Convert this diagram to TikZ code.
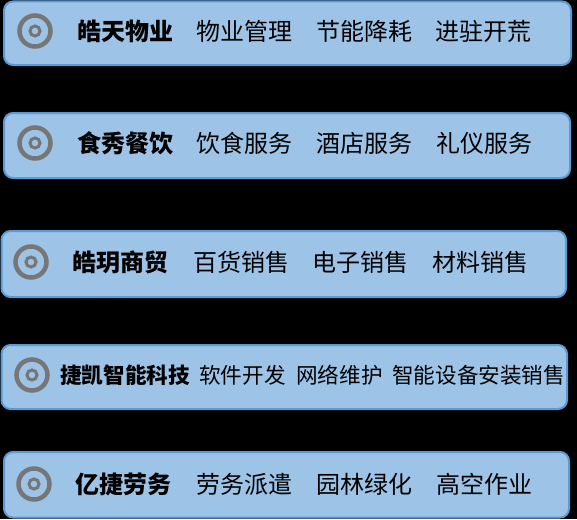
\documentclass[tikz,border=0pt]{standalone}
\usepackage{fontspec}
\newfontfamily\cjk{Noto Sans CJK SC}
\begin{document}
\begin{tikzpicture}[x=1pt,y=-1pt,
  card/.style={draw=cardedge,line width=2pt,fill=cardfill,rounded corners=9pt},
  ringout/.style={circle,draw=ringgray,line width=4.5pt,minimum size=31pt,inner sep=0pt},
  ringin/.style={circle,draw=ringgray,line width=3pt,minimum size=10pt,inner sep=0pt},
  lbl/.style={anchor=west,inner sep=0pt,text=black,font=\cjk\fontsize{24}{28}\selectfont},
  lblb/.style={lbl,font=\cjk\bfseries\fontsize{24}{28}\selectfont},
  lbls/.style={anchor=west,inner sep=0pt,text=black,font=\cjk\fontsize{21.6}{26}\selectfont},
  lblsb/.style={lbls,font=\cjk\bfseries\fontsize{21.6}{26}\selectfont}]
\definecolor{cardfill}{HTML}{9DC3E6}
\definecolor{cardedge}{HTML}{5B9BD5}
\definecolor{ringgray}{HTML}{767676}
\fill[black] (0,0) rectangle (577,519);
\useasboundingbox (0,0) rectangle (577,519);
% boxes
\draw[card] (4,1.5) rectangle (571,65);
\draw[card] (4,113) rectangle (570,178);
\draw[card] (1.5,231) rectangle (566,297);
\draw[card] (1.5,345) rectangle (567,409);
\draw[card] (4,452) rectangle (569,517.5);
% icons
\foreach \n/\cx/\cy in {1/35/31,2/35/143,3/31/262,4/32/375,5/34/484}{
  \node[ringout] (io\n) at (\cx,\cy) {};
  \node[ringin] (ii\n) at (io\n.center) {};
}
% row 1
\node[lblb] (a1) at (77,31) {皓天物业};
\node[lbl] (a2) at (196,31) {物业管理};
\node[lbl] (a3) at (316,31) {节能降耗};
\node[lbl] (a4) at (435,31) {进驻开荒};
% row 2
\node[lblb] (b1) at (77,143) {食秀餐饮};
\node[lbl] (b2) at (196,143) {饮食服务};
\node[lbl] (b3) at (316,143) {酒店服务};
\node[lbl] (b4) at (436,143) {礼仪服务};
% row 3
\node[lblb] (c1) at (72,262) {皓玥商贸};
\node[lbl] (c2) at (193,262) {百货销售};
\node[lbl] (c3) at (312,262) {电子销售};
\node[lbl] (c4) at (432,262) {材料销售};
% row 4
\node[lblsb] (d1) at (60,375) {捷凯智能科技};
\node[lbls] (d2) at (199,375) {软件开发};
\node[lbls] (d3) at (296,375) {网络维护};
\node[lbls] (d4) at (392,375) {智能设备安装销售};
% row 5
\node[lblb] (e1) at (75,484) {亿捷劳务};
\node[lbl] (e2) at (196,484) {劳务派遣};
\node[lbl] (e3) at (316,484) {园林绿化};
\node[lbl] (e4) at (436,484) {高空作业};
\end{tikzpicture}
\end{document}
